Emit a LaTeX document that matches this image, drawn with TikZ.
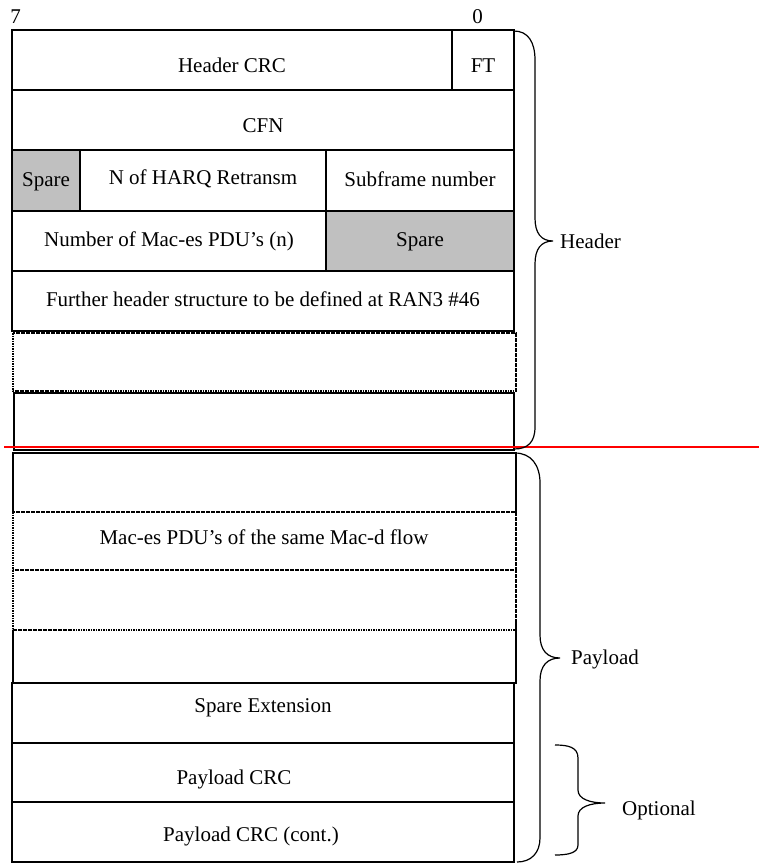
\documentclass[tikz,border=0pt]{standalone}
\usepackage{fontspec}
\setmainfont{Liberation Serif}
\begin{document}
\begin{tikzpicture}[x=1pt,y=-1pt,
  box/.style={line width=1.2pt},
  dotbox/.style={line width=1.7pt, dash pattern=on 1.6pt off 0.9pt},
  sparefill/.style={fill={rgb,255:red,192;green,192;blue,192}},
  lbl/.style={anchor=base, inner sep=0pt, font=\fontsize{21}{24}\selectfont},
  brace/.style={line width=1.2pt},
  sep/.style={red, line width=1.3pt}]
\useasboundingbox (0,0) rectangle (759,863);
% bit labels
\node[lbl] (b7) at (15.5,23) {7};
\node[lbl] (b0) at (477.5,23) {0};
% grey spare fields
\fill[sparefill] (12,150) rectangle (80,211);
\fill[sparefill] (326,211) rectangle (514,271);
% header rows
\draw[box] (12,30) rectangle (514,90);
\draw[box] (452,30) -- (452,90);
\draw[box] (12,90) rectangle (514,150);
\draw[box] (12,150) rectangle (514,211);
\draw[box] (80,150) -- (80,211);
\draw[box] (326,150) -- (326,271);
\draw[box] (12,211) rectangle (514,271);
\draw[box] (12,271) rectangle (514,331);
\draw[dotbox] (13,333) rectangle (516,391);
\draw[box] (14,393) rectangle (514,450);
% payload rows
\draw[box] (13,512) -- (13,453) -- (516,453) -- (516,512);
\draw[dotbox] (13,512) rectangle (516,570);
\draw[dotbox] (13,570) rectangle (516,630);
\draw[box] (13,630) -- (13,683) -- (516,683) -- (516,623);
\draw[box] (12,683) rectangle (514,743);
\draw[box] (12,743) rectangle (514,802);
\draw[box] (12,802) rectangle (514,862);
% field texts
\node[lbl] (hcrc) at (232,72) {Header CRC};
\node[lbl] (ft) at (483,72) {FT};
\node[lbl] (cfn) at (263,132) {CFN};
\node[lbl] (sp1) at (46,186) {Spare};
\node[lbl] (harq) at (203,184) {N of HARQ Retransm};
\node[lbl] (subf) at (420,186) {Subframe number};
\node[lbl] (nmac) at (169,246) {Number of Mac-es PDU’s (n)};
\node[lbl] (sp2) at (420,246) {Spare};
\node[lbl] (furth) at (263,306) {Further header structure to be defined at RAN3 \#46};
\node[lbl] (macd) at (264,544) {Mac-es PDU’s of the same Mac-d flow};
\node[lbl] (spext) at (263,712) {Spare Extension};
\node[lbl] (pcrc) at (234,784) {Payload CRC};
\node[lbl] (pcrc2) at (251,841) {Payload CRC (cont.)};
% header / payload separator
\draw[sep] (4,447) -- (759,447);
% braces
\draw[brace] (514,31) .. controls (528,31) and (535,42) .. (535,60)
  -- (535,218) .. controls (535,233) and (541,241) .. (553,241)
  .. controls (541,241) and (535,249) .. (535,264)
  -- (535,427) .. controls (535,442) and (528,449) .. (514,449);
\node[lbl, anchor=base west] (hdr) at (560,248) {Header};
\draw[brace] (515,453) .. controls (531,453) and (540,465) .. (540,483)
  -- (540,635) .. controls (540,650) and (547,658) .. (560,658)
  .. controls (547,658) and (540,666) .. (540,681)
  -- (540,838) .. controls (540,853) and (531,862) .. (517,862);
\node[lbl, anchor=base west] (pay) at (571,664) {Payload};
\draw[brace] (555,745) .. controls (568,745) and (578,747) .. (578,758)
  -- (578,790) .. controls (578,799) and (590,803) .. (605,803)
  .. controls (590,803) and (578,807) .. (578,816)
  -- (578,845) .. controls (578,853) and (568,855) .. (555,855);
\node[lbl, anchor=base west] (opt) at (622,815) {Optional};
\end{tikzpicture}
\end{document}
